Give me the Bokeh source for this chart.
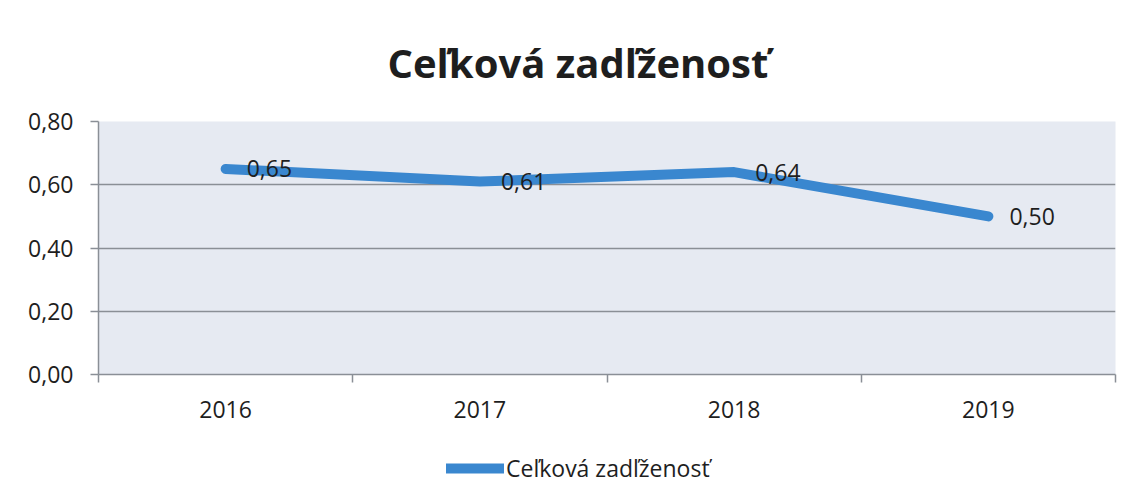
from bokeh.plotting import figure
from bokeh.layouts import column
from bokeh.models import (ColumnDataSource, Range1d, FixedTicker, Legend, LegendItem,
                          LabelSet)
from bokeh.core.properties import value
from bokeh.embed import file_html
from bokeh.resources import INLINE

years = ["2016", "2017", "2018", "2019"]
values = [0.65, 0.61, 0.64, 0.50]
value_labels = ["0,65", "0,61", "0,64", "0,50"]
y_ticks = [0.0, 0.2, 0.4, 0.6, 0.8]
y_tick_labels = ["0,00", "0,20", "0,40", "0,60", "0,80"]
series_name = "Ceľková zadľženosť"

FONT = "Open Sans"
TXT = "#1e1e1e"
GRID = "#8a8f96"
LINE = "#3a87cf"
xs = [i + 0.5 for i in range(len(years))]
src = ColumnDataSource(dict(x=xs, y=values, lab=value_labels))

p = figure(width=1130, height=430, output_backend="svg", toolbar_location=None,
           x_range=Range1d(0, len(years)), y_range=Range1d(0, 0.8),
           min_border_left=98, min_border_right=15, min_border_top=121,
           min_border_bottom=56, border_fill_color="white")
p.outline_line_color = None
p.background_fill_color = "#e6eaf2"

p.title.text = series_name
p.title.align = "left"
p.title.offset = 289
p.title.text_font = FONT
p.title.text_font_size = "40px"
p.title.text_font_style = "bold"
p.title.text_color = TXT
p.title.standoff = 63

# y axis
p.yaxis.ticker = FixedTicker(ticks=y_ticks)
p.yaxis.major_label_overrides = {t: l for t, l in zip(y_ticks, y_tick_labels)}
p.yaxis.major_label_text_font = FONT
p.yaxis.major_label_text_font_size = "23px"
p.yaxis.major_label_text_color = TXT
p.yaxis.axis_line_color = GRID
p.yaxis.axis_line_width = 1.5
p.yaxis.major_tick_line_color = GRID
p.yaxis.major_tick_line_width = 1.5
p.yaxis.major_tick_out = 8
p.yaxis.major_tick_in = 0
p.yaxis.minor_tick_line_color = None
p.yaxis.major_label_standoff = 17

# x axis: labels at centres, ticks between categories
p.xaxis.ticker = FixedTicker(ticks=xs, minor_ticks=list(range(len(years) + 1)))
p.xaxis.major_label_overrides = {x: y for x, y in zip(xs, years)}
p.xaxis.major_label_text_font = FONT
p.xaxis.major_label_text_font_size = "23px"
p.xaxis.major_label_text_color = TXT
p.xaxis.axis_line_color = GRID
p.xaxis.axis_line_width = 1.5
p.xaxis.major_tick_line_color = None
p.xaxis.minor_tick_line_color = GRID
p.xaxis.minor_tick_line_width = 1.5
p.xaxis.minor_tick_out = 8
p.xaxis.minor_tick_in = 0
p.xaxis.major_label_standoff = 18

p.xgrid.grid_line_color = None
p.ygrid.grid_line_color = GRID
p.ygrid.grid_line_width = 1.5

p.line("x", "y", source=src, line_color=LINE, line_width=10,
       line_cap="round", line_join="round")

labels = LabelSet(x="x", y="y", text="lab", source=src, x_offset=21, y_offset=0,
                  text_font=value(FONT), text_font_size="23px", text_color=TXT,
                  text_baseline="middle", text_align="left")
p.add_layout(labels)

# legend strip below the chart
q = figure(width=1130, height=67, output_backend="svg", toolbar_location=None,
           x_range=Range1d(100, 101), y_range=Range1d(100, 101),
           x_axis_type=None, y_axis_type=None,
           min_border_left=0, min_border_right=0, min_border_top=0,
           min_border_bottom=0, border_fill_color="white")
q.outline_line_color = None
q.background_fill_color = "white"
q.xgrid.grid_line_color = None
q.ygrid.grid_line_color = None
r2 = q.line("x", "y", source=src, line_color=LINE, line_width=10,
            line_cap="round", line_join="round")
legend = Legend(items=[LegendItem(label=series_name, renderers=[r2])],
                location=(348, 13), orientation="horizontal",
                label_text_font=FONT, label_text_font_size="23px",
                label_text_color=TXT, glyph_width=58, glyph_height=24,
                label_standoff=2, border_line_color=None,
                background_fill_alpha=0, margin=0, padding=4)
q.add_layout(legend)

layout = column(p, q, spacing=0)
html = file_html(layout, INLINE)
open("out.html", "w").write(html)
